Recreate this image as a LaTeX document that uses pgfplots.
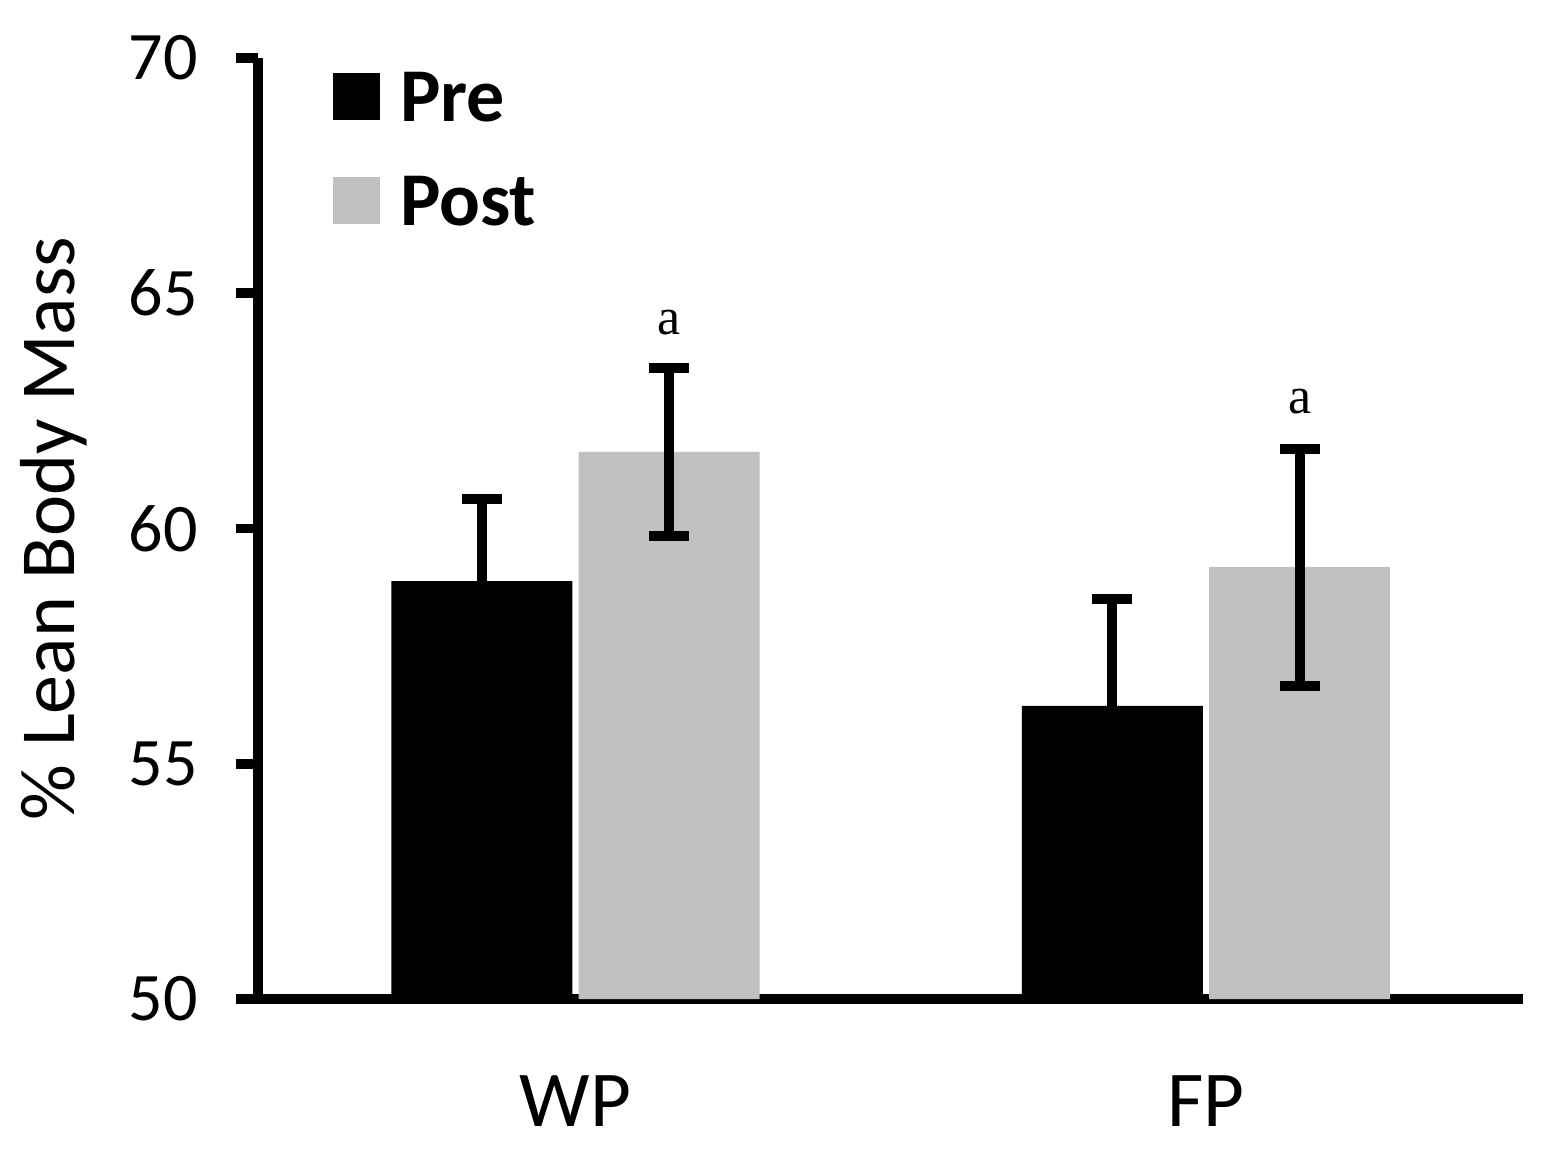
\documentclass[border=0pt]{standalone}
\usepackage{fontspec}
\setmainfont{Carlito}
\newfontfamily\serifa{Liberation Serif}
\usepackage{pgfplots}
\pgfplotsset{compat=1.18}
\definecolor{barg}{RGB}{192,192,192}
\begin{document}
\begin{tikzpicture}
\begin{axis}[
  scale only axis, width=316.25bp, height=235.25bp,
  xmin=-0.5036, xmax=1.5028, ymin=50, ymax=70,
  axis x line=bottom, axis y line=left,
  axis line style={-, line width=2.4bp, black},
  ytick={50,55,60,65,70}, xtick={0,1}, xticklabels={WP,FP},
  major x tick style={draw=none},
  major y tick style={line width=2.4bp, black},
  major tick length=5.5bp, tick align=outside,
  y tick label style={font=\fontsize{17bp}{20bp}\selectfont, xshift=-6bp},
  x tick label style={font=\fontsize{19.8bp}{22bp}\selectfont, yshift=-10.25bp},
  /pgf/number format/assume math mode=true,
  ylabel={\% Lean Body Mass},
  every axis y label/.style={at={(axis description cs:-0.1613,0.5)}, rotate=90, anchor=center, font=\fontsize{19.5bp}{22bp}\selectfont},
  ybar, bar width=45.25bp,
  legend image code/.code={\fill[#1] (0bp,-4.75bp) rectangle (11.75bp,7bp); \path (16.75bp,0bp);},
  legend style={draw=none, fill=none, inner sep=0pt, outer sep=0pt,
    at={(0.0593,0.99681)}, anchor=north west,
    font=\bfseries\fontsize{19bp}{22bp}\selectfont,
    nodes={inner sep=0pt, outer sep=0pt, text height=15bp, text depth=5bp},
    row sep=6bp, column sep=0pt},
  legend cell align=left,
  clip=false,
]
\addplot[fill=black, draw=none, bar shift=-23.4bp,
  error bars/.cd, y dir=plus, y explicit,
  error bar style={line width=2.5bp, black},
  error mark options={rotate=90, mark size=5bp, line width=2.5bp, black}]
  coordinates {(0,58.88) +- (0,1.75) (1,56.23) +- (0,2.27)};
\addlegendentry{Pre}
\addplot[fill=barg, draw=none, bar shift=23.4bp,
  error bars/.cd, y dir=both, y explicit,
  error bar style={line width=2.5bp, black},
  error mark options={rotate=90, mark size=5bp, line width=2.5bp, black}]
  coordinates {(0,61.63) +- (0,1.78) (1,59.18) +- (0,2.52)};
\addlegendentry{Post}
\node[font=\serifa\fontsize{13bp}{15bp}\selectfont, xshift=23.4bp] at (axis cs:0,64.37) {a};
\node[font=\serifa\fontsize{13bp}{15bp}\selectfont, xshift=23.4bp] at (axis cs:1,62.69) {a};
\end{axis}
\pgfresetboundingbox
\path (-64.5bp,-40.75bp) rectangle (321.5bp,249.75bp);
\end{tikzpicture}
\end{document}
